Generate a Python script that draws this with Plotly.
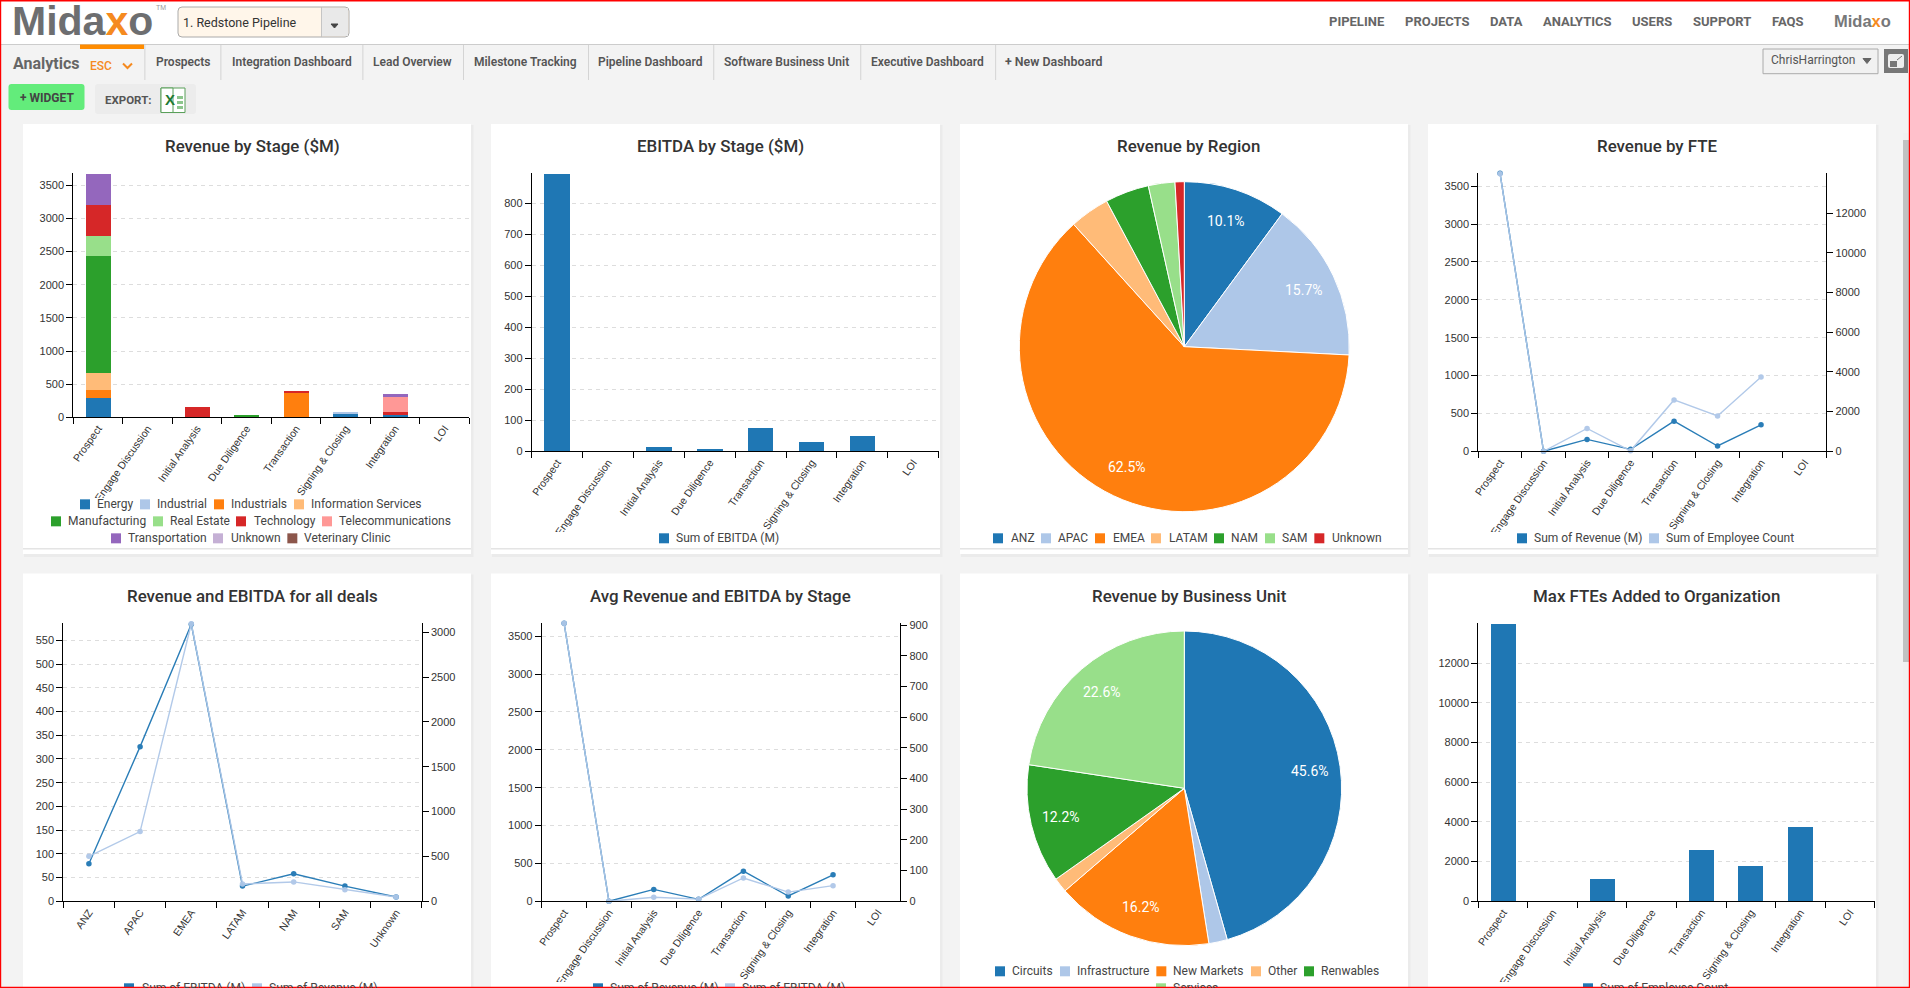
import math
import plotly.graph_objects as go

W, H = 1910, 988

# ---------- DATA ----------
stages = ["Prospect", "Engage Discussion", "Initial Analysis", "Due Diligence",
          "Transaction", "Signing & Closing", "Integration", "LOI"]
regions = ["ANZ", "APAC", "EMEA", "LATAM", "NAM", "SAM", "Unknown"]
business_units = ["Circuits", "Infrastructure", "New Markets", "Other", "Renwables", "Services"]
sectors = ["Energy", "Industrial", "Industrials", "Information Services", "Manufacturing",
           "Real Estate", "Technology", "Telecommunications", "Transportation", "Unknown",
           "Veterinary Clinic"]

energy = [292, 0, 0, 0, 0, 50, 40, 0]
industrial = [0, 0, 0, 0, 0, 15, 0, 0]
industrials = [120, 0, 0, 0, 367, 0, 0, 0]
information_services = [257, 0, 0, 0, 0, 0, 0, 0]
manufacturing = [1764, 0, 0, 20, 0, 0, 0, 0]
real_estate = [302, 0, 0, 0, 0, 0, 0, 0]
technology = [468, 0, 156, 0, 30, 0, 40, 0]
telecommunications = [0, 0, 0, 0, 0, 0, 227, 0]
transportation = [467, 0, 0, 0, 0, 0, 45, 0]
unknown_sector = [0, 0, 0, 0, 0, 0, 0, 0]
veterinary = [0, 0, 0, 0, 0, 0, 0, 0]

ebitda_by_stage = [895, 0, 14, 4, 76, 30, 50, 0]
revenue_by_stage = [3671, 0, 157, 26, 398, 70, 350, None]
employees_by_stage = [14000, 0, 1150, 25, 2590, 1782, 3750, None]
employees_bars = [14000, 0, 1126, 0, 2590, 1782, 3749, 0]
avg_ebitda_by_stage = [906, 0, 13, 7, 76, 30, 51, None]

ebitda_by_region = [79, 326, 584, 32, 58, 32, 9]
revenue_by_region = [502, 777, 3095, 193, 216, 130, 48]

region_share = [10.1, 15.7, 62.5, 3.9, 4.3, 2.6, 0.9]
unit_share = [45.6, 1.9, 16.2, 1.5, 12.2, 22.6]

tabs = ["Prospects", "Integration Dashboard", "Lead Overview", "Milestone Tracking",
        "Pipeline Dashboard", "Software Business Unit", "Executive Dashboard"]
nav_items = ["PIPELINE", "PROJECTS", "DATA", "ANALYTICS", "USERS", "SUPPORT", "FAQS"]

# ---------- STYLE / LAYOUT ----------
C20 = ["#1f77b4", "#aec7e8", "#ff7f0e", "#ffbb78", "#2ca02c", "#98df8a", "#d62728",
       "#ff9896", "#9467bd", "#c5b0d5", "#8c564b"]
UI = "Roboto"
AX = "Liberation Sans"
PAGE_BG = "#f3f3f3"

shapes_below, shapes_above, anns = [], [], []


def px(x):
    return x / W


def py(y):
    return 1 - y / H


def rect(x0, y0, x1, y1, fill, line=None, layer="below", lw=1):
    s = dict(type="rect", xref="paper", yref="paper", x0=px(x0), x1=px(x1), y0=py(y0), y1=py(y1),
             fillcolor=fill, line=dict(color=line or fill, width=lw if line else 0), layer=layer)
    (shapes_below if layer == "below" else shapes_above).append(s)


def rrect(x0, y0, x1, y1, r, fill, line=None, layer="below"):
    a, b, c, d = px(x0), px(x1), py(y0), py(y1)
    rx, ry = r / W, r / H
    path = (f"M {a+rx},{c} L {b-rx},{c} Q {b},{c} {b},{c-ry} L {b},{d+ry} Q {b},{d} {b-rx},{d} "
            f"L {a+rx},{d} Q {a},{d} {a},{d+ry} L {a},{c-ry} Q {a},{c} {a+rx},{c} Z")
    s = dict(type="path", xref="paper", yref="paper", path=path, fillcolor=fill,
             line=dict(color=line or fill, width=1 if line else 0), layer=layer)
    (shapes_below if layer == "below" else shapes_above).append(s)


def poly(points, color, width=2, fill=None, layer="above"):
    d = "M " + " L ".join(f"{px(x)},{py(y)}" for x, y in points)
    if fill:
        d += " Z"
    s = dict(type="path", xref="paper", yref="paper", path=d, line=dict(color=color, width=width),
             fillcolor=fill or "rgba(0,0,0,0)", layer=layer)
    (shapes_below if layer == "below" else shapes_above).append(s)


def text(x, y, s, size=12, color="#333", family=UI, weight=400, anchor="center"):
    anns.append(dict(xref="paper", yref="paper", x=px(x), y=py(y), text=s, showarrow=False,
                     xanchor=anchor, yanchor="middle", align=anchor,
                     font=dict(family=family, size=size, color=color, weight=weight),
                     borderpad=0, borderwidth=0))


# ---------- PAGE CHROME ----------
rect(0, 0, W, 44, "#ffffff")
rect(0, 44, W, 45, "#cccccc")
text(12, 21.5, 'Mida<span style="color:#f58a1f">x</span>o', 41, "#6d6e70", AX, 700, "left")
text(156, 8, "TM", 7, "#999999", AX, 400, "left")

rrect(178, 7, 349, 37, 4, "#fff6ea", "#aaaaaa")
rect(321, 8, 348, 36, "#e9e9e9")
rect(321, 7, 321.8, 37, "#bbbbbb")
text(183, 22, "1. Redstone Pipeline", 12.5, "#333333", UI, 400, "left")
poly([(331, 24), (338, 24), (334.5, 28)], "#444444", 1, "#444444", "below")

nav_centers = [1356.6, 1437.5, 1506, 1577.5, 1652, 1722, 1787.5]
for name, cx in zip(nav_items, nav_centers):
    text(cx, 21, name, 13, "#666666", UI, 700)
text(1862, 21, 'Mida<span style="color:#f58a1f">x</span>o', 16.5, "#77787a", AX, 700)

rect(80, 44.5, 144, 49, "#ff8c00")
text(12.5, 63, "Analytics", 16, "#666666", UI, 700, "left")
text(90, 66, "ESC", 12, "#f58a1f", UI, 500, "left")
poly([(123, 63.5), (127.5, 68), (132, 63.5)], "#f58a1f", 2)

separators = [144.5, 220.5, 362.5, 463, 588, 713.4, 860.4, 995.3]
for sx in separators:
    rect(sx, 45, sx + 0.8, 80, "#cccccc")
for i, name in enumerate(tabs):
    text((separators[i] + separators[i + 1]) / 2, 62, name, 12, "#555555", UI, 600)
text(1005, 62, "<b>+</b> New Dashboard", 12.4, "#555555", UI, 600, "left")

rect(1763, 49, 1878, 73.7, "#f1f1f1", "#aaaaaa")
text(1771, 60, "ChrisHarrington", 12, "#555555", UI, 400, "left")
poly([(1863, 58.5), (1871, 58.5), (1867, 63.5)], "#666666", 1, "#666666", "below")
rect(1884, 49, 1908, 73, "#777777")
rrect(1888, 54, 1904, 68, 2, "#eeeeee", None, "below")
rect(1890, 61, 1897, 67, "#777777")
poly([(1897, 60), (1902, 56)], "#777777", 1, None, "below")

rrect(8.5, 84, 84.5, 110, 3, "#63ec7b")
text(46.5, 98, "<b>+</b> WIDGET", 12, "#444444", UI, 700)
rrect(95, 84, 196, 114, 3, "#ececec")
text(105, 100, "EXPORT:", 11.5, "#555555", UI, 700, "left")
rect(161, 88, 185, 112.5, "#ffffff", "#5aa05a")
rect(161, 88, 173, 112.5, "#ffffff", "#5aa05a")
text(170, 100, "<b>X</b>", 15, "#1e7a34", AX, 700)
for cy in (96, 101, 106):
    rect(177, cy, 183, cy + 3, "#8cc68c")

# cards
CARD_X = [(23, 471), (491, 940), (960, 1408), (1428, 1876)]
for (l, r) in CARD_X:
    for (t, b) in [(124, 554), (573.5, 990)]:
        rect(l + 1, t + 1, r + 2.5, b + 3, "#ebebeb")
        rect(l, t, r, b, "#ffffff")
    rect(l, 548, r, 549.5, "#e4e4e4")

# scrollbar
rect(1903, 133, 1909, 988, "#f1f1f1")
rect(1903, 140, 1909, 662, "#c1c1c1")

# titles
for cx, cy, s in [(252, 146.3, "Revenue by Stage ($M)"), (720, 146.3, "EBITDA by Stage ($M)"),
                  (1188.7, 146.3, "Revenue by Region"), (1657, 146.3, "Revenue by FTE"),
                  (252, 596.3, "Revenue and EBITDA for all deals"),
                  (720.7, 596.3, "Avg Revenue and EBITDA by Stage"),
                  (1189, 596.3, "Revenue by Business Unit"),
                  (1656.8, 596.3, "Max FTEs Added to Organization")]:
    text(cx, cy, s, 16.9, "#333333", UI, 500)

# clip of long rotated labels by the legend zone
rect(30, 498, 465, 547, "#ffffff", layer="above")
rect(498, 532, 935, 547, "#ffffff", layer="above")
rect(1435, 532, 1872, 547, "#ffffff", layer="above")
rect(498, 982, 935, 988, "#ffffff", layer="above")
rect(1435, 982, 1872, 988, "#ffffff", layer="above")


def legend(entries, y):
    """entries: (label, colour, swatch_x, label_x)"""
    for label, color, sx, lx in entries:
        rect(sx, y - 5, sx + 10, y + 5, color, layer="above")
        text(lx, y, label, 12, "#444444", UI, 400, "left")


def zx(v, base):
    return base + v / 3


def leg1(i, sx, lx):
    return (sectors[i], C20[i], zx(sx, 20), zx(lx, 20))


legend([leg1(0, 180, 232), leg1(1, 360, 412), leg1(2, 582, 634), leg1(3, 822, 873)], 125 + 1138 / 3)
legend([leg1(4, 93, 143), leg1(5, 399, 449), leg1(6, 648, 701), leg1(7, 906, 958)], 125 + 1189 / 3)
legend([leg1(8, 273, 324), leg1(9, 579, 632), leg1(10, 802, 852)], 125 + 1240 / 3)
legend([("Sum of EBITDA (M)", C20[0], 659, 675.7)], 538.3)
legend([("Sum of Revenue (M)", C20[0], 1517, 1534), ("Sum of Employee Count", C20[1], 1649, 1666)], 538.3)
region_legend_x = [(114, 168), (258, 310), (420, 473), (588, 641), (777, 829), (930, 981), (1078, 1130)]
legend([(regions[i], C20[i], zx(a, 955), zx(b, 955)) for i, (a, b) in enumerate(region_legend_x)], 538.3)
legend([("Sum of EBITDA (M)", C20[0], 124, 141.7), ("Sum of Revenue (M)", C20[1], 252, 269)], 988.3)
legend([("Sum of Revenue (M)", C20[0], 593, 610), ("Sum of EBITDA (M)", C20[1], 725, 742)], 988.3)
legend([("Sum of Employee Count", C20[0], 1583, 1600)], 988.3)
unit_legend_x = [(120, 172), (315, 367), (604, 655), (888, 939), (1047, 1098)]
legend([(business_units[i], C20[i], zx(a, 955), zx(b, 955)) for i, (a, b) in enumerate(unit_legend_x)], 971.3)
legend([(business_units[5], C20[5], zx(603, 955), zx(655, 955))], 988.3)

# ---------- FIGURE ----------
fig = go.Figure()
layout_axes = {}


def axis_common(size=11):
    return dict(showline=True, linecolor="#000000", linewidth=1, ticks="outside", ticklen=6,
                tickcolor="#000000", tickwidth=1, zeroline=False, fixedrange=True, automargin=False,
                tickfont=dict(family=AX, size=size, color="#333333"))


def add_axes(n, box, cats, yr, yt, y2r=None, y2t=None):
    l, r, top, bottom = box
    sfx = "" if n == 1 else str(n)
    layout_axes["xaxis" + sfx] = dict(
        axis_common(10.5), domain=[px(l), px(r)], anchor="y" + sfx, type="category",
        categoryorder="array", categoryarray=cats, range=[-0.5, len(cats) - 0.5],
        tickson="boundaries", tickangle=-55, showgrid=False)
    layout_axes["yaxis" + sfx] = dict(
        axis_common(), domain=[py(bottom), py(top)], anchor="x" + sfx, range=yr, tickmode="array",
        tickvals=yt, ticktext=[str(v) for v in yt], showgrid=True, gridcolor="#dddddd",
        gridwidth=1, griddash="4px,4px")
    if y2r:
        k = n + 10
        layout_axes[f"yaxis{k}"] = dict(
            axis_common(), domain=[py(bottom), py(top)], anchor="x" + sfx, overlaying="y" + sfx,
            side="right", range=y2r, tickmode="array", tickvals=y2t,
            ticktext=[str(v) for v in y2t], showgrid=False)


def bars(n, cats, vals, name, color):
    sfx = "" if n == 1 else str(n)
    fig.add_bar(x=cats, y=vals, name=name, marker=dict(color=color, line=dict(width=0)),
                xaxis="x" + sfx, yaxis="y" + sfx, showlegend=False, width=0.505)


def line(n, cats, vals, name, color, right=False):
    sfx = "" if n == 1 else str(n)
    fig.add_scatter(x=cats, y=vals, name=name, mode="lines+markers",
                    line=dict(color=color, width=1.4), marker=dict(color=color, size=5.5),
                    opacity=0.95, xaxis="x" + sfx, yaxis=f"y{n+10}" if right else "y" + sfx,
                    showlegend=False, cliponaxis=False, connectgaps=False)


# 1 stacked revenue by stage
add_axes(1, (73.3, 469.3, 173.3, 417.3), stages, [0, 3681], list(range(0, 3501, 500)))
for nm, vals, col in zip(sectors, [energy, industrial, industrials, information_services, manufacturing,
                                   real_estate, technology, telecommunications, transportation,
                                   unknown_sector, veterinary], C20):
    bars(1, stages, vals, nm, col)
# 2 ebitda by stage
add_axes(2, (531.7, 938.7, 173.3, 451.3), stages, [0, 897], list(range(0, 801, 100)))
bars(2, stages, ebitda_by_stage, "Sum of EBITDA (M)", C20[0])
# 4 revenue by FTE
add_axes(4, (1478.3, 1826.3, 173.3, 451.3), stages, [0, 3671], list(range(0, 3501, 500)),
         [0, 14017], list(range(0, 12001, 2000)))
line(4, stages, revenue_by_stage, "Sum of Revenue (M)", C20[0])
line(4, stages, employees_by_stage, "Sum of Employee Count", C20[1], True)
# 5 revenue and ebitda for all deals
add_axes(5, (63.3, 421.7, 623.3, 901.3), regions, [0, 586], list(range(0, 551, 50)),
         [0, 3100], list(range(0, 3001, 500)))
line(5, regions, ebitda_by_region, "Sum of EBITDA (M)", C20[0])
line(5, regions, revenue_by_region, "Sum of Revenue (M)", C20[1], True)
# 6 avg revenue and ebitda
add_axes(6, (541.7, 900.3, 623.3, 901.3), stages, [0, 3671], list(range(0, 3501, 500)),
         [0, 906], list(range(0, 901, 100)))
line(6, stages, revenue_by_stage, "Sum of Revenue (M)", C20[0])
line(6, stages, avg_ebitda_by_stage, "Sum of EBITDA (M)", C20[1], True)
# 8 max FTEs
add_axes(8, (1478.3, 1874.7, 623.3, 901.3), stages, [0, 14017], list(range(0, 12001, 2000)))
bars(8, stages, employees_bars, "Sum of Employee Count", C20[0])


def pie(labels, vals, cx, cy, R):
    fig.add_pie(labels=labels, values=vals, sort=False, direction="clockwise", rotation=0,
                marker=dict(colors=C20[:len(labels)], line=dict(color="#ffffff", width=1)),
                textinfo="none", showlegend=False, hoverinfo="label+percent",
                domain=dict(x=[px(cx - R), px(cx + R)], y=[py(cy + R), py(cy - R)]))
    total, acc = sum(vals), 0
    for v in vals:
        mid = (acc + v / 2) / total * 2 * math.pi
        acc += v
        if v / total >= 0.05:
            text(cx + 0.805 * R * math.sin(mid), cy - 0.805 * R * math.cos(mid),
                 f"{v:.1f}%", 14, "#ffffff", UI, 400)


pie(regions, region_share, 1184.3, 346.7, 165)
pie(business_units, unit_share, 1184.3, 788.3, 157.3)

# red frame
rect(0, 0, W, 1.5, "#ff0000", layer="above")
rect(0, 986.8, W, H, "#ff0000", layer="above")
rect(0, 0, 1.2, H, "#ff0000", layer="above")
rect(1908.8, 0, W, H, "#ff0000", layer="above")

fig.update_layout(width=W, height=H, margin=dict(l=0, r=0, t=0, b=0, pad=0), autosize=False,
                  paper_bgcolor=PAGE_BG, plot_bgcolor="rgba(0,0,0,0)", barmode="stack",
                  showlegend=False, shapes=shapes_below + shapes_above, annotations=anns,
                  hovermode="closest", **layout_axes)

fig.write_html("out.html", config=dict(displayModeBar=False, responsive=False),
               post_script="document.body.style.margin='0';document.body.style.overflow='hidden';")
